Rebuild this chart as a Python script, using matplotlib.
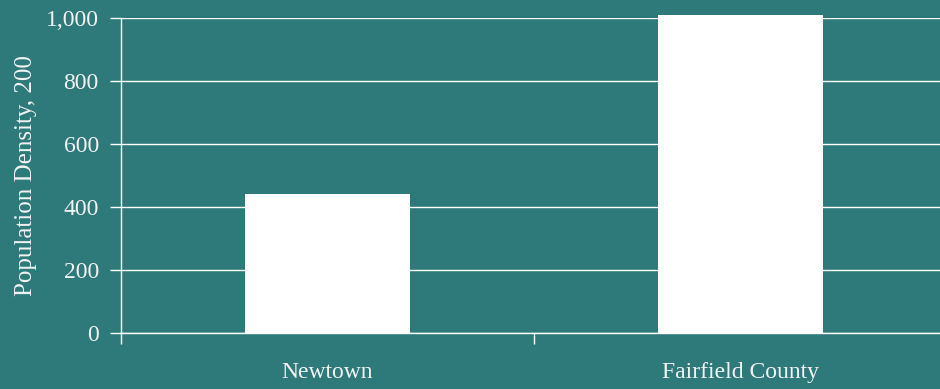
import matplotlib
matplotlib.use("Agg")
import matplotlib.pyplot as plt

categories = ["Newtown", "Fairfield County"]
values = [441, 1010]
yticks = [0, 200, 400, 600, 800, 1000]
ytick_labels = ["0", "200", "400", "600", "800", "1,000"]
ylabel = "Population Density, 200"

bg = "#2E797A"
fg = "#F2F2F2"

plt.rcParams['font.family'] = ['Liberation Serif', 'DejaVu Serif']

fig = plt.figure(figsize=(9.4, 3.89), dpi=100, facecolor=bg)
ax = fig.add_axes([121/940, 56/389, 826/940, 315/389], facecolor=bg)

x = list(range(len(categories)))
bars = ax.bar(x, values, width=0.4, color="white", zorder=3)
for b in bars:
    b.set_clip_on(False)

ax.set_xlim(-0.5, len(categories) - 0.5)
ax.set_ylim(0, 1000)

ax.set_yticks(yticks)
ax.set_yticklabels(ytick_labels)
ax.yaxis.grid(True, color="white", linewidth=1.0, zorder=1)
ax.set_axisbelow(True)

ax.set_xticks([i - 0.5 for i in range(len(categories) + 1)])
ax.set_xticklabels([])
ax.set_xticks(x, minor=True)
ax.set_xticklabels(categories, minor=True)
ax.tick_params(axis="x", which="major", length=8, width=1, color="white", direction="out")
ax.tick_params(axis="x", which="minor", length=0, pad=21, labelsize=17, labelcolor=fg)
ax.tick_params(axis="y", length=8, width=1, color="white", pad=8, labelsize=17, labelcolor=fg)

for s in ["top", "right"]:
    ax.spines[s].set_visible(False)
for s in ["left", "bottom"]:
    ax.spines[s].set_color("white")
    ax.spines[s].set_linewidth(1.0)

ax.set_ylabel(ylabel, fontsize=18, color=fg, labelpad=6)

fig.savefig("out.png", dpi=100, facecolor=bg)
